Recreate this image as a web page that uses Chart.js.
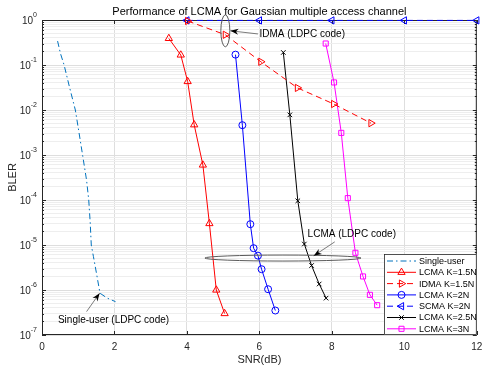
<!DOCTYPE html>
<html>
<head>
<meta charset="utf-8">
<script src="https://cdn.jsdelivr.net/npm/chart.js@4.4.0/dist/chart.umd.min.js"></script>
<style>
  html, body { margin: 0; padding: 0; background: #fff; }
  canvas { display: block; }
</style>
</head>
<body>
<canvas id="bler" width="482" height="366"></canvas>
<script>
const FONT = '"Liberation Sans", Arial, Helvetica, sans-serif';
const INK = '#262626';

// tick labels
const xTicks = [0, 2, 4, 6, 8, 10, 12];
const yExponents = [0, -1, -2, -3, -4, -5, -6, -7];

// series (SNR in dB, BLER)
const snrSingle = [0.43, 0.51, 0.61, 0.76, 0.92, 1.02, 1.12, 1.23, 1.29, 1.33, 1.36, 1.42, 1.51, 1.6, 1.8, 2.03];
const blerSingle = [0.34, 0.18, 0.1, 0.032, 0.01, 0.0032, 1e-3, 2.75e-4, 1e-4, 3.2e-5, 1e-5, 5.5e-6, 2.2e-6, 8.5e-7, 6.6e-7, 5.5e-7];

const snrLcma15 = [3.5, 3.83, 4.02, 4.2, 4.44, 4.62, 4.81, 5.04];
const blerLcma15 = [0.39, 0.167, 0.043, 0.0047, 6e-4, 3e-5, 1e-6, 3e-7];

const snrIdma15 = [4.02, 5.06, 6.04, 7.05, 8.05, 9.08];
const blerIdma15 = [0.95, 0.47, 0.118, 0.031, 0.0136, 0.0051];

const snrLcma2 = [5.34, 5.53, 5.75, 5.84, 5.96, 6.06, 6.24, 6.44];
const blerLcma2 = [0.17, 0.0046, 2.9e-5, 8.5e-6, 5.8e-6, 2.9e-6, 1.04e-6, 3.5e-7];

const snrScma2 = [4, 6, 8, 10, 12];
const blerScma2 = [0.98, 0.98, 0.98, 0.98, 0.98];

const snrLcma25 = [6.66, 6.84, 7.06, 7.24, 7.44, 7.65, 7.84];
const blerLcma25 = [0.19, 0.0078, 9.6e-5, 1.05e-5, 3.5e-6, 1.36e-6, 6.6e-7];

const snrLcma3 = [7.83, 8.06, 8.26, 8.44, 8.65, 8.86, 9.05, 9.25];
const blerLcma3 = [0.30, 0.041, 0.0031, 1.1e-4, 6.7e-6, 2e-6, 7.8e-7, 4.6e-7];

const seriesNames = ['Single-user', 'LCMA K=1.5N', 'IDMA K=1.5N', 'LCMA K=2N', 'SCMA K=2N', 'LCMA K=2.5N', 'LCMA K=3N'];

function pts(xs, ys) {
    return xs.map((x, i) => ({ x: x, y: ys[i] }));
}

function isDecade(v) {
    const l = Math.log10(v);
    return Math.abs(l - Math.round(l)) < 1e-6;
}

const dashed = [6, 4];
const dashDot = [6, 3, 1.5, 3];

function series(label, xs, ys, color, dash, style, radius, rotation) {
    return {
        label: label,
        data: pts(xs, ys),
        borderColor: color,
        borderWidth: 1,
        borderDash: dash,
        pointStyle: style,
        pointRadius: radius,
        pointRotation: rotation,
        pointBorderColor: color,
        pointBackgroundColor: 'rgba(0,0,0,0)',
        pointBorderWidth: 1,
        tension: 0,
        clip: false
    };
}

const datasets = [
    series(seriesNames[0], snrSingle, blerSingle, '#0072BD', dashDot, false, 0, 0),
    series(seriesNames[1], snrLcma15, blerLcma15, '#FF0000', [], 'triangle', 4.2, 0),
    series(seriesNames[2], snrIdma15, blerIdma15, '#FF0000', dashed, 'triangle', 4.2, 90),
    series(seriesNames[3], snrLcma2, blerLcma2, '#0000FF', [], 'circle', 3.5, 0),
    series(seriesNames[4], snrScma2, blerScma2, '#0000FF', dashed, 'triangle', 4.2, -90),
    series(seriesNames[5], snrLcma25, blerLcma25, '#000000', [], 'crossRot', 3.2, 0),
    series(seriesNames[6], snrLcma3, blerLcma3, '#FF00FF', [], 'rect', 3.6, 0)
];

// axes box and inside ticks go under the data lines
const boxPlugin = {
    id: 'box',
    beforeDatasetsDraw(chart) {
        const ctx = chart.ctx;
        const a = chart.chartArea;
        const px = v => chart.scales.x.getPixelForValue(v);
        const ys = chart.scales.y;
        ctx.save();
        ctx.strokeStyle = INK;
        ctx.lineWidth = 1;
        ctx.strokeRect(a.left + 0.5, a.top + 0.5, a.right - a.left - 1, a.bottom - a.top - 1);
        ctx.beginPath();
        xTicks.forEach(t => {
            const x = Math.round(px(t)) + 0.5;
            ctx.moveTo(x, a.bottom); ctx.lineTo(x, a.bottom - 4);
            ctx.moveTo(x, a.top); ctx.lineTo(x, a.top + 4);
        });
        ys.ticks.forEach(t => {
            const y = Math.round(ys.getPixelForValue(t.value)) + 0.5;
            const len = isDecade(t.value) ? 4 : 2;
            ctx.moveTo(a.left, y); ctx.lineTo(a.left + len, y);
            ctx.moveTo(a.right, y); ctx.lineTo(a.right - len, y);
        });
        ctx.stroke();
        ctx.restore();
    }
};

// labels, annotations and legend drawn over the chart
const decorPlugin = {
    id: 'decor',
    afterDraw(chart) {
        const ctx = chart.ctx;
        const a = chart.chartArea;
        const xs = chart.scales.x;
        const ys = chart.scales.y;
        const px = v => xs.getPixelForValue(v);
        const py = v => ys.getPixelForValue(v);
        ctx.save();

        // tick labels
        ctx.fillStyle = INK;
        ctx.font = '10px ' + FONT;
        ctx.textAlign = 'center';
        ctx.textBaseline = 'middle';
        xTicks.forEach(t => ctx.fillText(String(t), px(t), a.bottom + 12));

        yExponents.forEach(e => {
            const y = py(Math.pow(10, e));
            const exp = String(e);
            ctx.font = '7px ' + FONT;
            const ew = ctx.measureText(exp).width;
            const right = a.left - 5;
            ctx.textAlign = 'left';
            ctx.fillText(exp, right - ew, y - 5);
            ctx.font = '10px ' + FONT;
            ctx.textAlign = 'right';
            ctx.fillText('10', right - ew, y + 1);
        });

        // axis titles and title
        ctx.textAlign = 'center';
        ctx.font = '11px ' + FONT;
        ctx.fillText('SNR(dB)', (a.left + a.right) / 2, 360);
        ctx.save();
        ctx.translate(13, (a.top + a.bottom) / 2);
        ctx.rotate(-Math.PI / 2);
        ctx.fillText('BLER', 0, 0);
        ctx.restore();
        ctx.fillStyle = '#000';
        ctx.font = '11px ' + FONT;
        ctx.fillText('Performance of LCMA for Gaussian multiple access channel', (a.left + a.right) / 2, 12);

        // annotations
        const gray = '#5a5a5a';
        function arrow(x0, y0, x1, y1) {
            ctx.strokeStyle = gray;
            ctx.fillStyle = '#000';
            ctx.lineWidth = 0.8;
            ctx.beginPath();
            ctx.moveTo(x0, y0); ctx.lineTo(x1, y1);
            ctx.stroke();
            const ang = Math.atan2(y1 - y0, x1 - x0);
            const L = 8, W = 3;
            ctx.beginPath();
            ctx.moveTo(x1, y1);
            ctx.lineTo(x1 - L * Math.cos(ang) + W * Math.sin(ang), y1 - L * Math.sin(ang) - W * Math.cos(ang));
            ctx.lineTo(x1 - L * 0.7 * Math.cos(ang), y1 - L * 0.7 * Math.sin(ang));
            ctx.lineTo(x1 - L * Math.cos(ang) - W * Math.sin(ang), y1 - L * Math.sin(ang) + W * Math.cos(ang));
            ctx.closePath();
            ctx.fill();
        }
        function ellipse(cx, cy, rx, ry) {
            ctx.strokeStyle = gray;
            ctx.lineWidth = 1;
            ctx.beginPath();
            ctx.ellipse(cx, cy, rx, ry, 0, 0, Math.PI * 2);
            ctx.stroke();
        }
        const L10 = v => Math.pow(10, v);

        ellipse(px(5.06), py(L10(-0.24)), 4.5, 16);
        arrow(px(5.96), py(L10(-0.31)), px(5.2), py(L10(-0.24)));
        ctx.fillStyle = '#000';
        ctx.font = '10px ' + FONT;
        ctx.textAlign = 'left';
        ctx.fillText('IDMA (LDPC code)', px(6.0), py(L10(-0.31)));

        ellipse(px(6.65), py(L10(-5.29)), 78, 3);
        arrow(px(8.08), py(L10(-4.93)), px(7.5), py(L10(-5.24)));
        ctx.fillStyle = '#000';
        ctx.textAlign = 'center';
        ctx.fillText('LCMA (LDPC code)', px(8.55), py(L10(-4.76)));

        arrow(px(1.23), py(L10(-6.48)), px(1.59), py(L10(-6.07)));
        ctx.fillStyle = '#000';
        ctx.textAlign = 'left';
        ctx.fillText('Single-user (LDPC code)', px(0.44), py(L10(-6.67)));

        // legend
        const lx = 384, ly = 254, lw = a.right - lx, lh = a.bottom - ly;
        ctx.fillStyle = '#fff';
        ctx.fillRect(lx, ly, lw, lh);
        ctx.strokeStyle = INK;
        ctx.lineWidth = 0.8;
        ctx.strokeRect(lx + 0.5, ly + 0.5, lw - 1, lh - 1);
        ctx.font = '9px ' + FONT;
        ctx.textAlign = 'left';
        datasets.forEach((ds, i) => {
            const y = 261 + i * 11.3;
            ctx.strokeStyle = ds.borderColor;
            ctx.lineWidth = 1;
            ctx.setLineDash(ds.borderDash);
            ctx.beginPath();
            ctx.moveTo(387, y); ctx.lineTo(416, y);
            ctx.stroke();
            ctx.setLineDash([]);
            if (ds.pointStyle) {
                ctx.fillStyle = 'rgba(0,0,0,0)';
                Chart.helpers.drawPoint(ctx, {
                    pointStyle: ds.pointStyle,
                    rotation: ds.pointRotation,
                    radius: ds.pointRadius,
                    borderWidth: 1
                }, 401.5, y);
            }
            ctx.fillStyle = '#000';
            ctx.fillText(ds.label, 419, y + 0.5);
        });

        ctx.restore();
    }
};

new Chart(document.getElementById('bler'), {
    type: 'line',
    data: { datasets: datasets },
    options: {
        responsive: false,
        animation: false,
        layout: { padding: { left: 42, right: 5, top: 20, bottom: 31 } },
        scales: {
            x: {
                type: 'linear',
                min: 0,
                max: 12,
                ticks: { stepSize: 2, display: false },
                border: { display: false },
                grid: { color: '#dedede', drawTicks: false, lineWidth: 1 }
            },
            y: {
                type: 'logarithmic',
                min: 1e-7,
                max: 1,
                ticks: { display: false },
                afterBuildTicks: (scale) => {
                    const t = [];
                    for (let e = -7; e < 0; e++) {
                        for (let m = 1; m < 10; m++) t.push({ value: m * Math.pow(10, e) });
                    }
                    t.push({ value: 1 });
                    scale.ticks = t;
                },
                border: { display: false },
                grid: {
                    drawTicks: false,
                    lineWidth: 1,
                    color: (c) => (c.tick && isDecade(c.tick.value)) ? '#dedede' : '#eeeeee'
                }
            }
        },
        plugins: {
            legend: { display: false },
            title: { display: false },
            tooltip: { enabled: false }
        }
    },
    plugins: [boxPlugin, decorPlugin]
});
</script>
</body>
</html>
